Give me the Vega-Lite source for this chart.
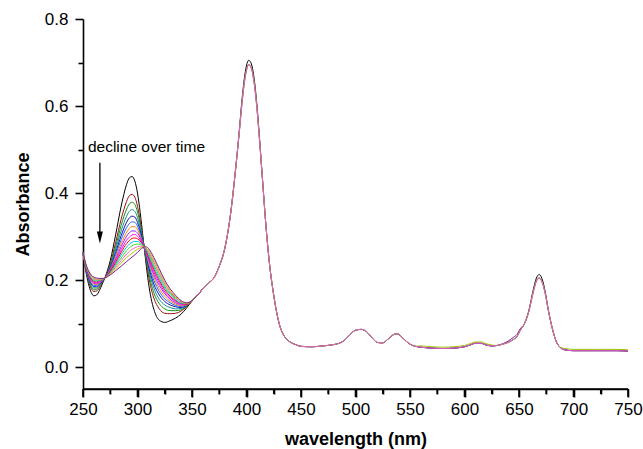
{
  "$schema": "https://vega.github.io/schema/vega-lite/v6.json",
  "autosize": "none",
  "width": 545,
  "height": 370,
  "padding": {"left": 83, "top": 19, "right": 15, "bottom": 60},
  "config": {
    "view": {"stroke": null},
    "font": "Liberation Sans",
    "axis": {
      "grid": false,
      "domainColor": "#000000",
      "domainWidth": 1.6,
      "tickColor": "#000000",
      "tickWidth": 1.6,
      "labelColor": "#000000",
      "labelFontSize": 17,
      "labelFlush": false,
      "labelOverlap": false,
      "titleColor": "#000000",
      "titleFontSize": 18,
      "titleFontWeight": "bold"
    }
  },
  "resolve": {"axis": {"x": "independent", "y": "independent"}},
  "layer": [
    {
      "data": {
        "values": [
          {"w":250,"s00":0.263,"s01":0.263,"s02":0.263,"s03":0.263,"s04":0.263,"s05":0.263,"s06":0.263,"s07":0.263,"s08":0.263,"s09":0.263,"s10":0.263,"s11":0.263,"s12":0.263,"s13":0.263,"s14":0.263},
          {"w":252.5,"s00":0.222,"s01":0.226,"s02":0.227,"s03":0.229,"s04":0.230,"s05":0.231,"s06":0.232,"s07":0.233,"s08":0.234,"s09":0.234,"s10":0.235,"s11":0.236,"s12":0.237,"s13":0.237,"s14":0.238},
          {"w":255,"s00":0.192,"s01":0.199,"s02":0.202,"s03":0.204,"s04":0.207,"s05":0.209,"s06":0.211,"s07":0.212,"s08":0.214,"s09":0.215,"s10":0.217,"s11":0.218,"s12":0.219,"s13":0.221,"s14":0.222},
          {"w":257.5,"s00":0.172,"s01":0.181,"s02":0.185,"s03":0.188,"s04":0.192,"s05":0.194,"s06":0.197,"s07":0.199,"s08":0.201,"s09":0.203,"s10":0.205,"s11":0.206,"s12":0.208,"s13":0.210,"s14":0.212},
          {"w":260,"s00":0.164,"s01":0.174,"s02":0.178,"s03":0.182,"s04":0.185,"s05":0.188,"s06":0.191,"s07":0.193,"s08":0.195,"s09":0.197,"s10":0.199,"s11":0.201,"s12":0.203,"s13":0.205,"s14":0.207},
          {"w":262.5,"s00":0.166,"s01":0.175,"s02":0.179,"s03":0.182,"s04":0.185,"s05":0.188,"s06":0.190,"s07":0.192,"s08":0.194,"s09":0.196,"s10":0.198,"s11":0.200,"s12":0.201,"s13":0.203,"s14":0.205},
          {"w":265,"s00":0.176,"s01":0.182,"s02":0.185,"s03":0.188,"s04":0.190,"s05":0.192,"s06":0.193,"s07":0.195,"s08":0.196,"s09":0.198,"s10":0.199,"s11":0.200,"s12":0.201,"s13":0.203,"s14":0.204},
          {"w":267.5,"s00":0.190,"s01":0.193,"s02":0.195,"s03":0.196,"s04":0.197,"s05":0.198,"s06":0.199,"s07":0.200,"s08":0.200,"s09":0.201,"s10":0.201,"s11":0.202,"s12":0.203,"s13":0.203,"s14":0.204},
          {"w":270,"s00":0.205,"s01":0.205,"s02":0.205,"s03":0.205,"s04":0.205,"s05":0.205,"s06":0.205,"s07":0.205,"s08":0.205,"s09":0.205,"s10":0.205,"s11":0.205,"s12":0.205,"s13":0.205,"s14":0.205},
          {"w":275,"s00":0.245,"s01":0.238,"s02":0.234,"s03":0.232,"s04":0.229,"s05":0.227,"s06":0.225,"s07":0.223,"s08":0.221,"s09":0.220,"s10":0.218,"s11":0.217,"s12":0.215,"s13":0.214,"s14":0.212},
          {"w":280,"s00":0.305,"s01":0.287,"s02":0.278,"s03":0.271,"s04":0.264,"s05":0.259,"s06":0.254,"s07":0.249,"s08":0.245,"s09":0.241,"s10":0.237,"s11":0.234,"s12":0.230,"s13":0.226,"s14":0.222},
          {"w":285,"s00":0.370,"s01":0.340,"s02":0.326,"s03":0.313,"s04":0.302,"s05":0.293,"s06":0.284,"s07":0.277,"s08":0.270,"s09":0.264,"s10":0.258,"s11":0.251,"s12":0.245,"s13":0.239,"s14":0.232},
          {"w":290,"s00":0.420,"s01":0.381,"s02":0.363,"s03":0.347,"s04":0.333,"s05":0.321,"s06":0.310,"s07":0.301,"s08":0.292,"s09":0.284,"s10":0.276,"s11":0.268,"s12":0.260,"s13":0.252,"s14":0.243},
          {"w":292.5,"s00":0.435,"s01":0.394,"s02":0.375,"s03":0.358,"s04":0.343,"s05":0.330,"s06":0.319,"s07":0.309,"s08":0.299,"s09":0.291,"s10":0.283,"s11":0.274,"s12":0.266,"s13":0.257,"s14":0.248},
          {"w":295,"s00":0.438,"s01":0.397,"s02":0.379,"s03":0.362,"s04":0.347,"s05":0.334,"s06":0.323,"s07":0.313,"s08":0.304,"s09":0.296,"s10":0.287,"s11":0.279,"s12":0.271,"s13":0.262,"s14":0.253},
          {"w":297.5,"s00":0.428,"s01":0.391,"s02":0.374,"s03":0.358,"s04":0.345,"s05":0.333,"s06":0.323,"s07":0.313,"s08":0.305,"s09":0.297,"s10":0.289,"s11":0.282,"s12":0.274,"s13":0.267,"s14":0.258},
          {"w":300,"s00":0.400,"s01":0.370,"s02":0.357,"s03":0.344,"s04":0.333,"s05":0.324,"s06":0.316,"s07":0.308,"s08":0.301,"s09":0.295,"s10":0.289,"s11":0.283,"s12":0.277,"s13":0.271,"s14":0.264},
          {"w":302.5,"s00":0.355,"s01":0.336,"s02":0.328,"s03":0.320,"s04":0.313,"s05":0.307,"s06":0.302,"s07":0.298,"s08":0.293,"s09":0.290,"s10":0.286,"s11":0.282,"s12":0.278,"s13":0.274,"s14":0.270},
          {"w":305,"s00":0.300,"s01":0.295,"s02":0.292,"s03":0.290,"s04":0.288,"s05":0.286,"s06":0.285,"s07":0.283,"s08":0.282,"s09":0.281,"s10":0.280,"s11":0.279,"s12":0.277,"s13":0.276,"s14":0.275},
          {"w":307.5,"s00":0.245,"s01":0.252,"s02":0.255,"s03":0.258,"s04":0.261,"s05":0.263,"s06":0.265,"s07":0.267,"s08":0.268,"s09":0.270,"s10":0.271,"s11":0.273,"s12":0.274,"s13":0.275,"s14":0.277},
          {"w":310,"s00":0.195,"s01":0.212,"s02":0.220,"s03":0.227,"s04":0.233,"s05":0.239,"s06":0.243,"s07":0.248,"s08":0.252,"s09":0.255,"s10":0.259,"s11":0.262,"s12":0.266,"s13":0.269,"s14":0.273},
          {"w":312.5,"s00":0.158,"s01":0.181,"s02":0.192,"s03":0.202,"s04":0.210,"s05":0.217,"s06":0.224,"s07":0.230,"s08":0.235,"s09":0.240,"s10":0.244,"s11":0.249,"s12":0.254,"s13":0.259,"s14":0.264},
          {"w":315,"s00":0.133,"s01":0.159,"s02":0.171,"s03":0.182,"s04":0.191,"s05":0.200,"s06":0.207,"s07":0.213,"s08":0.219,"s09":0.225,"s10":0.230,"s11":0.235,"s12":0.241,"s13":0.246,"s14":0.252},
          {"w":320,"s00":0.108,"s01":0.134,"s02":0.146,"s03":0.156,"s04":0.166,"s05":0.174,"s06":0.181,"s07":0.188,"s08":0.194,"s09":0.199,"s10":0.204,"s11":0.210,"s12":0.215,"s13":0.220,"s14":0.226},
          {"w":325,"s00":0.103,"s01":0.124,"s02":0.134,"s03":0.143,"s04":0.151,"s05":0.157,"s06":0.163,"s07":0.169,"s08":0.173,"s09":0.178,"s10":0.182,"s11":0.186,"s12":0.191,"s13":0.195,"s14":0.200},
          {"w":330,"s00":0.107,"s01":0.123,"s02":0.130,"s03":0.137,"s04":0.143,"s05":0.148,"s06":0.152,"s07":0.156,"s08":0.160,"s09":0.163,"s10":0.167,"s11":0.170,"s12":0.173,"s13":0.176,"s14":0.180},
          {"w":335,"s00":0.113,"s01":0.124,"s02":0.130,"s03":0.134,"s04":0.139,"s05":0.142,"s06":0.145,"s07":0.148,"s08":0.151,"s09":0.153,"s10":0.155,"s11":0.158,"s12":0.160,"s13":0.162,"s14":0.165},
          {"w":340,"s00":0.122,"s01":0.129,"s02":0.132,"s03":0.135,"s04":0.137,"s05":0.139,"s06":0.141,"s07":0.143,"s08":0.145,"s09":0.146,"s10":0.147,"s11":0.149,"s12":0.150,"s13":0.152,"s14":0.153},
          {"w":345,"s00":0.136,"s01":0.139,"s02":0.140,"s03":0.141,"s04":0.142,"s05":0.143,"s06":0.143,"s07":0.144,"s08":0.145,"s09":0.145,"s10":0.146,"s11":0.146,"s12":0.147,"s13":0.147,"s14":0.148},
          {"w":350,"s00":0.152,"s01":0.152,"s02":0.152,"s03":0.152,"s04":0.152,"s05":0.152,"s06":0.152,"s07":0.153,"s08":0.153,"s09":0.153,"s10":0.153,"s11":0.153,"s12":0.153,"s13":0.153,"s14":0.153},
          {"w":355,"s00":0.166,"s01":0.166,"s02":0.166,"s03":0.166,"s04":0.166,"s05":0.166,"s06":0.166,"s07":0.166,"s08":0.166,"s09":0.166,"s10":0.166,"s11":0.166,"s12":0.166,"s13":0.166,"s14":0.166},
          {"w":360,"s00":0.180,"s01":0.180,"s02":0.180,"s03":0.180,"s04":0.180,"s05":0.180,"s06":0.180,"s07":0.180,"s08":0.180,"s09":0.180,"s10":0.180,"s11":0.180,"s12":0.180,"s13":0.180,"s14":0.180},
          {"w":355,"s15":0.166,"s16":0.166,"s17":0.166,"s18":0.166},
          {"w":360,"s15":0.180,"s16":0.180,"s17":0.180,"s18":0.180},
          {"w":365,"s15":0.193,"s16":0.193,"s17":0.193,"s18":0.193},
          {"w":370,"s15":0.205,"s16":0.205,"s17":0.205,"s18":0.205},
          {"w":375,"s15":0.232,"s16":0.232,"s17":0.232,"s18":0.232},
          {"w":380,"s15":0.272,"s16":0.272,"s17":0.272,"s18":0.272},
          {"w":385,"s15":0.345,"s16":0.345,"s17":0.345,"s18":0.345},
          {"w":390,"s15":0.455,"s16":0.455,"s17":0.455,"s18":0.455},
          {"w":393,"s15":0.533,"s16":0.530,"s17":0.530,"s18":0.530},
          {"w":396,"s15":0.618,"s16":0.610,"s17":0.610,"s18":0.610},
          {"w":399,"s15":0.680,"s16":0.670,"s17":0.670,"s18":0.670},
          {"w":402,"s15":0.705,"s16":0.695,"s17":0.695,"s18":0.695},
          {"w":404,"s15":0.700,"s16":0.690,"s17":0.690,"s18":0.690},
          {"w":406,"s15":0.680,"s16":0.670,"s17":0.670,"s18":0.670},
          {"w":409,"s15":0.618,"s16":0.610,"s17":0.610,"s18":0.610},
          {"w":412,"s15":0.525,"s16":0.520,"s17":0.520,"s18":0.520},
          {"w":415,"s15":0.420,"s16":0.420,"s17":0.420,"s18":0.420},
          {"w":418,"s15":0.320,"s16":0.320,"s17":0.320,"s18":0.320},
          {"w":421,"s15":0.240,"s16":0.240,"s17":0.240,"s18":0.240},
          {"w":425,"s15":0.165,"s16":0.165,"s17":0.165,"s18":0.165},
          {"w":430,"s15":0.100,"s16":0.100,"s17":0.100,"s18":0.100},
          {"w":435,"s15":0.070,"s16":0.070,"s17":0.070,"s18":0.070},
          {"w":440,"s15":0.058,"s16":0.058,"s17":0.058,"s18":0.058},
          {"w":445,"s15":0.052,"s16":0.052,"s17":0.052,"s18":0.052},
          {"w":450,"s15":0.048,"s16":0.048,"s17":0.048,"s18":0.048},
          {"w":460,"s15":0.047,"s16":0.047,"s17":0.047,"s18":0.047},
          {"w":470,"s15":0.049,"s16":0.049,"s17":0.049,"s18":0.049},
          {"w":480,"s15":0.052,"s16":0.052,"s17":0.052,"s18":0.052},
          {"w":485,"s15":0.055,"s16":0.055,"s17":0.055,"s18":0.055},
          {"w":490,"s15":0.062,"s16":0.062,"s17":0.062,"s18":0.062},
          {"w":495,"s15":0.075,"s16":0.075,"s17":0.075,"s18":0.075},
          {"w":500,"s15":0.085,"s16":0.085,"s17":0.085,"s18":0.085},
          {"w":505,"s15":0.087,"s16":0.087,"s17":0.087,"s18":0.087},
          {"w":510,"s15":0.082,"s16":0.082,"s17":0.082,"s18":0.082},
          {"w":515,"s15":0.068,"s16":0.068,"s17":0.068,"s18":0.068},
          {"w":520,"s15":0.057,"s16":0.057,"s17":0.057,"s18":0.057},
          {"w":525,"s15":0.056,"s16":0.056,"s17":0.056,"s18":0.056},
          {"w":530,"s15":0.065,"s16":0.065,"s17":0.065,"s18":0.065},
          {"w":535,"s15":0.075,"s16":0.075,"s17":0.075,"s18":0.075},
          {"w":538,"s15":0.077,"s16":0.077,"s17":0.077,"s18":0.077},
          {"w":541,"s15":0.073,"s16":0.073,"s17":0.073,"s18":0.073},
          {"w":545,"s15":0.063,"s16":0.063,"s17":0.063,"s18":0.063},
          {"w":550,"s15":0.053,"s16":0.053,"s17":0.053,"s18":0.053},
          {"w":555,"s15":0.048,"s16":0.048,"s17":0.048,"s18":0.048},
          {"w":560,"s15":0.046,"s16":0.046,"s17":0.049,"s18":0.046},
          {"w":570,"s15":0.044,"s16":0.044,"s17":0.047,"s18":0.044},
          {"w":580,"s15":0.043,"s16":0.043,"s17":0.046,"s18":0.043},
          {"w":590,"s15":0.044,"s16":0.044,"s17":0.047,"s18":0.044},
          {"w":600,"s15":0.047,"s16":0.047,"s17":0.050,"s18":0.047},
          {"w":605,"s15":0.051,"s16":0.051,"s17":0.054,"s18":0.051},
          {"w":610,"s15":0.055,"s16":0.055,"s17":0.058,"s18":0.055},
          {"w":615,"s15":0.055,"s16":0.055,"s17":0.058,"s18":0.055},
          {"w":620,"s15":0.051,"s16":0.051,"s17":0.054,"s18":0.051},
          {"w":625,"s15":0.049,"s16":0.049,"s17":0.051,"s18":0.049},
          {"w":630,"s15":0.050,"s16":0.050,"s17":0.050,"s18":0.050},
          {"w":635,"s15":0.053,"s16":0.054,"s17":0.053,"s18":0.053},
          {"w":640,"s15":0.057,"s16":0.060,"s17":0.057,"s18":0.057},
          {"w":645,"s15":0.064,"s16":0.069,"s17":0.064,"s18":0.064},
          {"w":648,"s15":0.070,"s16":0.075,"s17":0.070,"s18":0.070},
          {"w":651,"s15":0.084,"s16":0.088,"s17":0.084,"s18":0.084},
          {"w":655,"s15":0.100,"s16":0.100,"s17":0.100,"s18":0.100},
          {"w":659,"s15":0.130,"s16":0.128,"s17":0.128,"s18":0.128},
          {"w":663,"s15":0.177,"s16":0.172,"s17":0.172,"s18":0.172},
          {"w":666,"s15":0.205,"s16":0.198,"s17":0.198,"s18":0.198},
          {"w":668.5,"s15":0.213,"s16":0.205,"s17":0.205,"s18":0.205},
          {"w":671,"s15":0.204,"s16":0.197,"s17":0.197,"s18":0.197},
          {"w":674,"s15":0.174,"s16":0.170,"s17":0.170,"s18":0.170},
          {"w":677,"s15":0.130,"s16":0.130,"s17":0.130,"s18":0.130},
          {"w":680,"s15":0.095,"s16":0.095,"s17":0.095,"s18":0.095},
          {"w":684,"s15":0.060,"s16":0.060,"s17":0.060,"s18":0.060},
          {"w":688,"s15":0.045,"s16":0.045,"s17":0.046,"s18":0.045},
          {"w":692,"s15":0.040,"s16":0.040,"s17":0.043,"s18":0.040},
          {"w":700,"s15":0.038,"s16":0.038,"s17":0.041,"s18":0.038},
          {"w":720,"s15":0.038,"s16":0.038,"s17":0.041,"s18":0.038},
          {"w":740,"s15":0.038,"s16":0.038,"s17":0.041,"s18":0.038},
          {"w":750,"s15":0.037,"s16":0.037,"s17":0.040,"s18":0.037}
        ]
      },
      "transform": [
        {"fold": ["s00","s01","s02","s03","s04","s05","s06","s07","s08","s09","s10","s11","s12","s13","s14","s15","s16","s17","s18"], "as": ["scan", "a"]},
        {"filter": "isValid(datum.a)"}
      ],
      "mark": {"type": "line", "strokeWidth": 1, "interpolate": "monotone"},
      "encoding": {
        "x": {
          "field": "w", "type": "quantitative",
          "scale": {"domain": [250, 750], "nice": false, "zero": false},
          "axis": {
            "title": "wavelength (nm)",
            "values": [250,275,300,325,350,375,400,425,450,475,500,525,550,575,600,625,650,675,700,725,750],
            "labelExpr": "datum.value % 50 == 0 ? datum.label : ''",
            "format": "d",
            "tickSize": {"condition": {"test": "datum.value % 50 == 0", "value": 8}, "value": 5},
            "labelPadding": 4,
            "titleX": 272.5,
            "titleY": 55,
            "titleBaseline": "alphabetic"
          }
        },
        "y": {
          "field": "a", "type": "quantitative",
          "scale": {"domain": [-0.05, 0.8], "nice": false, "zero": false},
          "axis": {
            "title": "Absorbance",
            "values": [0, 0.1, 0.2, 0.3, 0.4, 0.5, 0.6, 0.7, 0.8],
            "labelExpr": "round(datum.value * 10) % 2 == 0 ? format(datum.value, '.1f') : ''",
            "tickSize": {"condition": {"test": "round(datum.value * 10) % 2 == 0", "value": 8}, "value": 5},
            "labelPadding": 7,
            "titleX": -55,
            "titleY": 185,
            "titleBaseline": "alphabetic"
          }
        },
        "color": {
          "field": "scan", "type": "nominal",
          "scale": {
            "domain": ["s00","s01","s02","s03","s04","s05","s06","s07","s08","s09","s10","s11","s12","s13","s14","s15","s16","s17","s18"],
            "range": ["#000000","#a01010","#109010","#109090","#1010b0","#2060ff","#ff8000","#9020ff","#ff00ff","#ff0000","#00c0e0","#30e030","#ff60c0","#c0c000","#7a1a9a","#000000","#7a1a9a","#9cc000","#e060c8"]
          },
          "legend": null
        }
      }
    },
    {
      "data": {"values": [{}]},
      "mark": {"type": "rule", "color": "#000000", "strokeWidth": 1.6},
      "encoding": {
        "x": {"datum": 250, "type": "quantitative", "axis": null},
        "x2": {"datum": 750},
        "y": {"datum": -0.05, "type": "quantitative", "axis": null}
      }
    },
    {
      "data": {"values": [{"tick": 250}, {"tick": 300}, {"tick": 350}, {"tick": 400}, {"tick": 450}, {"tick": 500}, {"tick": 550}, {"tick": 600}, {"tick": 650}, {"tick": 700}, {"tick": 750}]},
      "mark": {"type": "rule", "color": "#000000", "strokeWidth": 1.6},
      "encoding": {
        "x": {"field": "tick", "type": "quantitative", "axis": null},
        "y": {"datum": -0.05, "type": "quantitative", "axis": null},
        "y2": {"datum": -0.0684}
      }
    },
    {
      "data": {"values": [{"tick": 275}, {"tick": 325}, {"tick": 375}, {"tick": 425}, {"tick": 475}, {"tick": 525}, {"tick": 575}, {"tick": 625}, {"tick": 675}, {"tick": 725}]},
      "mark": {"type": "rule", "color": "#000000", "strokeWidth": 1.6},
      "encoding": {
        "x": {"field": "tick", "type": "quantitative", "axis": null},
        "y": {"datum": -0.05, "type": "quantitative", "axis": null},
        "y2": {"datum": -0.0615}
      }
    },
    {
      "data": {"values": [{}]},
      "mark": {"type": "rule", "color": "#000000", "strokeWidth": 1.3},
      "encoding": {
        "x": {"datum": 265.5, "type": "quantitative", "axis": null},
        "y": {"datum": 0.47, "type": "quantitative", "axis": null},
        "y2": {"datum": 0.3}
      }
    },
    {
      "data": {"values": [{}]},
      "mark": {"type": "point", "shape": "M0,0L-0.5,-2L0.5,-2Z", "filled": true, "color": "#000000", "opacity": 1, "size": 144},
      "encoding": {
        "x": {"datum": 265.5, "type": "quantitative", "axis": null},
        "y": {"datum": 0.284, "type": "quantitative", "axis": null}
      }
    },
    {
      "data": {"values": [{}]},
      "mark": {"type": "text", "align": "left", "baseline": "alphabetic", "fontSize": 15.5, "color": "#000000", "text": "decline over time"},
      "encoding": {
        "x": {"datum": 254.5, "type": "quantitative", "axis": null},
        "y": {"datum": 0.494, "type": "quantitative", "axis": null}
      }
    }
  ]
}
